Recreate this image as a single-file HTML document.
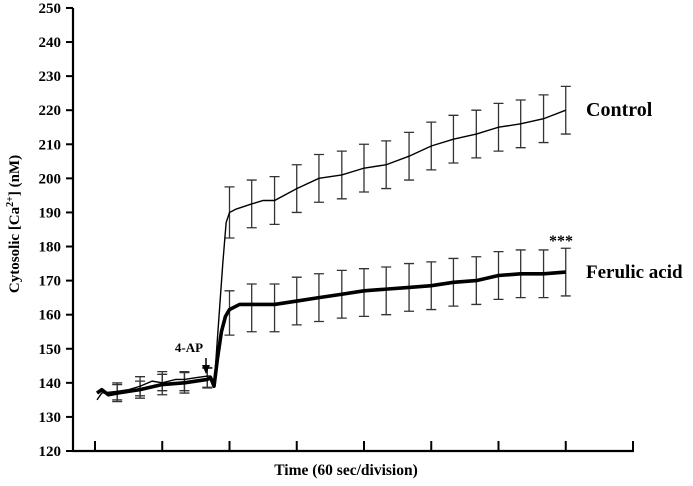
<!DOCTYPE html>
<html><head><meta charset="utf-8"><style>
html,body{margin:0;padding:0;background:#fff;}
svg{display:block;font-family:"Liberation Serif",serif;font-weight:bold;}
</style></head><body>
<svg id="chart" width="693" height="486" viewBox="0 0 693 486">
<g id="axes"></g>
<g id="series"></g>
<text x="8" y="0" font-size="15" transform="translate(19,232) rotate(-90)" text-anchor="middle">Cytosolic [Ca<tspan font-size="10" dy="-6">2+</tspan><tspan dy="6">] (nM)</tspan></text>
<text x="346" y="475" font-size="15.5" text-anchor="middle">Time (60 sec/division)</text>
<text x="586" y="116" font-size="20">Control</text>
<text x="586" y="278" font-size="19">Ferulic acid</text>
<text x="561" y="246" font-size="16" text-anchor="middle">***</text>
<text x="189" y="352" font-size="13" text-anchor="middle">4-AP</text>
<g>
<line x1="206" y1="358" x2="206" y2="368" stroke="#000" stroke-width="1.5"/>
<polygon points="202,365 210,365 206,374" fill="#000"/>
</g>
<script>
const yTicks=[120,130,140,150,160,170,180,190,200,210,220,230,240,250];
const xTicks=[0,1,2,3,4,5,6,7,8];
const ctrlT=[0.03,0.1,0.33,0.5,0.67,0.85,1.0,1.2,1.33,1.5,1.67,1.72,1.77,1.9,1.95,2.0,2.1,2.33,2.5,2.67,3.0,3.33,3.67,4.0,4.33,4.67,5.0,5.33,5.67,6.0,6.33,6.67,7.0];
const ctrlV=[135,137,137.5,138,139,140.5,140,141,141,141.5,142,142,139,175,187,190,191,192.5,193.5,193.5,197,200,201,203,204,206.5,209.5,211.5,213,215,216,217.5,220];
const ferT=[0.03,0.1,0.2,0.33,0.67,1.0,1.33,1.67,1.72,1.77,1.82,1.88,1.94,2.0,2.15,2.33,2.67,3.0,3.33,3.67,4.0,4.33,4.67,5.0,5.33,5.67,6.0,6.33,6.67,7.0];
const ferV=[137,138,136.5,137,138,139.5,140,141,141.5,139,147,155,159.5,161.5,163,163,163,164,165,166,167,167.5,168,168.5,169.5,170,171.5,172,172,172.5];
const errT=[0.33,0.67,1.0,1.33,1.67,2.0,2.33,2.67,3.0,3.33,3.67,4.0,4.33,4.67,5.0,5.33,5.67,6.0,6.33,6.67,7.0];
const ctrlErrM=[137.5,139,140.5,140.5,141.5,190,192.5,193.5,197,200,201,203,204,206.5,209.5,211.5,213,215,216,217.5,220];
const ctrlErrE=[2.5,2.8,2.8,2.8,2.8,7.5,7,7,7,7,7,7,7,7,7,7,7,7,7,7,7];
const ferErrM=[137,138,139.5,140,141.5,160.5,162,162,164,165,166,166.5,167,168,168.5,169.5,170,171.5,172,172,172.5];
const ferErrE=[2.5,2.5,3,3,3,6.5,7,7,7,7,7,7,7,7,7,7,7,7,7,7,7];
const NS='http://www.w3.org/2000/svg';
const X=t=>95+t*67.25, Y=v=>451-(v-120)*3.408;
function mk(tag,attrs,parent){const e=document.createElementNS(NS,tag);for(const k in attrs)e.setAttribute(k,attrs[k]);parent.appendChild(e);return e;}
const ax=document.getElementById('axes'), se=document.getElementById('series');
let e=mk('path',{d:`M73,${Y(250)} V451 H634`,stroke:'#000','stroke-width':2.2,fill:'none'},ax);


yTicks.forEach(v=>{
 let t=mk('line',{x1:66,x2:73,y1:Y(v),y2:Y(v),stroke:'#000','stroke-width':2},ax);
 
 
 let l=mk('text',{x:61,y:Y(v)+5,'font-size':15,'text-anchor':'end'},ax);l.textContent=v;
 
 
});
xTicks.forEach(t=>{
 let l=mk('line',{x1:X(t),x2:X(t),y1:441,y2:451,stroke:'#000','stroke-width':2},ax);
 
 
});
function errs(M,E,name){errT.forEach((t,i)=>{const x=X(t),y1=Y(M[i]-E[i]),y2=Y(M[i]+E[i]);
 let g=mk('path',{d:`M${x},${y1}V${y2}M${x-5},${y1}H${x+5}M${x-5},${y2}H${x+5}`,stroke:'#333','stroke-width':1.3,fill:'none'},se);
 
 });}
errs(ctrlErrM,ctrlErrE,'control-error-bar');
errs(ferErrM,ferErrE,'ferulic-error-bar');
let c=mk('polyline',{points:ctrlT.map((t,i)=>X(t)+','+Y(ctrlV[i])).join(' '),stroke:'#000','stroke-width':1.4,fill:'none'},se);


let f=mk('polyline',{points:ferT.map((t,i)=>X(t)+','+Y(ferV[i])).join(' '),stroke:'#000','stroke-width':3.6,fill:'none','stroke-linejoin':'round'},se);


</script>
</svg>
</body></html>
